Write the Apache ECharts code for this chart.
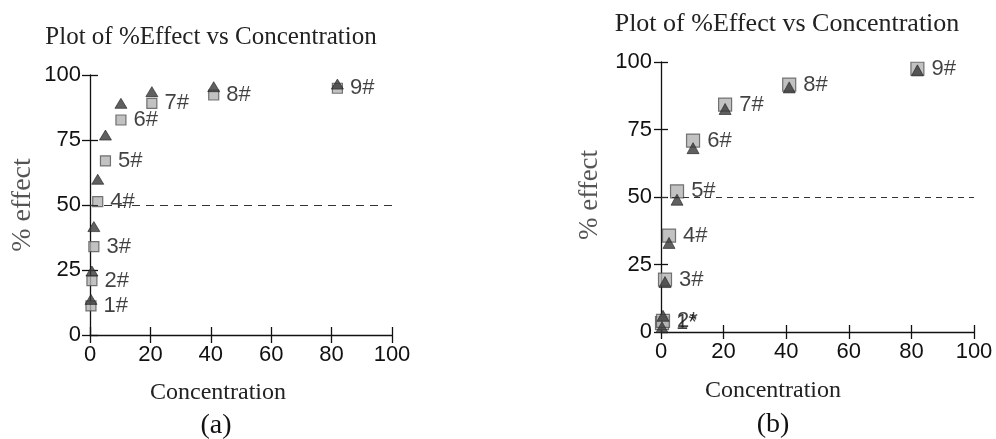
<!DOCTYPE html>
<html><head><meta charset="utf-8">
<script src="https://cdn.jsdelivr.net/npm/echarts@6/dist/echarts.min.js"></script>
<style>html,body{margin:0;padding:0;background:#fff}#c{width:996px;height:439px}</style>
</head><body><div id="c"></div>
<script>
// ---- data ----
const concentration = [0.32, 0.64, 1.28, 2.56, 5.12, 10.24, 20.48, 40.96, 81.92];
const leftSquares   = [11.2, 20.9, 34.0, 51.3, 67.0, 82.7, 89.1, 92.3, 94.9];
const leftTriangles = [13.7, 24.6, 41.7, 59.9, 76.9, 89.1, 93.6, 95.5, 96.5];
const rightSquares   = [3.3, 4.1, 19.4, 35.7, 52.1, 70.9, 84.2, 91.6, 97.5];
const rightTriangles = [1.8, 6.0, 18.5, 33.0, 49.0, 68.1, 82.6, 90.6, 96.9];
const leftLabels  = ['1#', '2#', '3#', '4#', '5#', '6#', '7#', '8#', '9#'];
const rightLabels = ['1*', '2*', '3#', '4#', '5#', '6#', '7#', '8#', '9#'];
const xTicks = [0, 20, 40, 60, 80, 100];
const yTicks = [0, 25, 50, 75, 100];
const refLine = 50;
const titleText = 'Plot of %Effect vs Concentration';
const yName = '% effect';
const xName = 'Concentration';
const panelNames = ['(a)', '(b)'];

// ---- helpers ----
const sans = '"Liberation Sans", Arial, sans-serif';
const serif = '"Liberation Serif", "Times New Roman", serif';
const pairs = (xs, ys) => xs.map((x, i) => [x, ys[i]]);

function xAx(grid, inside, tick, margin) {
  return {
    type: 'value', gridIndex: grid, position: 'bottom',
    min: xTicks[0], max: xTicks[xTicks.length - 1], interval: xTicks[1] - xTicks[0],
    splitLine: { show: false },
    axisLine: { show: !inside, onZero: false, lineStyle: { color: '#111', width: 1.3 } },
    axisTick: { show: true, inside: inside, length: tick, lineStyle: { color: '#111', width: 1.3 } },
    axisLabel: { show: !inside, margin: margin, color: '#111', fontSize: 22, fontFamily: sans }
  };
}
function yAx(grid, inside, tick, margin) {
  return {
    type: 'value', gridIndex: grid, position: 'left',
    min: yTicks[0], max: yTicks[yTicks.length - 1], interval: yTicks[1] - yTicks[0],
    splitLine: { show: false },
    axisLine: { show: !inside, onZero: false, lineStyle: { color: '#111', width: 1.3 } },
    axisTick: { show: true, inside: inside, length: tick, lineStyle: { color: '#111', width: 1.3 } },
    axisLabel: { show: !inside, margin: margin, color: '#111', fontSize: 22, fontFamily: sans }
  };
}
function squares(xi, yi, ys, labels, size, dash) {
  return {
    type: 'scatter', xAxisIndex: xi, yAxisIndex: yi, z: 3,
    symbol: 'rect', symbolSize: size,
    itemStyle: { color: '#b3b3b3', borderColor: '#555', borderWidth: 1.2 },
    label: {
      show: true, position: 'right', distance: 7,
      formatter: p => labels[p.dataIndex],
      color: '#111', fontSize: 22, fontFamily: sans
    },
    data: pairs(concentration, ys),
    markLine: {
      silent: true, symbol: 'none', label: { show: false },
      lineStyle: { color: '#333', width: 1.2, type: dash },
      data: [{ yAxis: refLine }]
    }
  };
}
function triangles(xi, yi, ys, size) {
  return {
    type: 'scatter', xAxisIndex: xi, yAxisIndex: yi, z: 4,
    symbol: 'triangle', symbolSize: size,
    itemStyle: { color: '#383838', borderColor: '#222', borderWidth: 0.8 },
    data: pairs(concentration, ys)
  };
}
function txt(x, y, text, size, color, rot) {
  return {
    type: 'text', x: x, y: y, rotation: rot || 0, z: 10,
    style: {
      text: text, font: size + 'px ' + serif, fill: color,
      textAlign: 'center', textVerticalAlign: 'middle', align: 'center', verticalAlign: 'middle'
    }
  };
}

const chart = echarts.init(document.getElementById('c'));
chart.setOption({
  backgroundColor: '#fff',
  animation: false,
  grid: [
    { left: 90, right: 604, top: 75, bottom: 104 },
    { left: 661, right: 22, top: 62, bottom: 107 }
  ],
  xAxis: [xAx(0, false, 8, 9), xAx(0, true, 8, 0), xAx(1, false, 7, 9), xAx(1, true, 7, 0)],
  yAxis: [yAx(0, false, 8, 9), yAx(0, true, 8, 0), yAx(1, false, 7, 9), yAx(1, true, 7, 0)],
  series: [
    squares(0, 0, leftSquares, leftLabels, 10, [8, 6]),
    triangles(0, 0, leftTriangles, [12, 10]),
    squares(2, 2, rightSquares, rightLabels, 13, [6, 5]),
    triangles(2, 2, rightTriangles, [12, 11])
  ],
  graphic: [
    txt(211, 37, titleText, 25, '#222'),
    txt(787, 24, titleText, 26, '#222'),
    txt(23, 205, yName, 28, '#555', Math.PI / 2),
    txt(590, 195, yName, 27, '#555', Math.PI / 2),
    txt(218, 393, xName, 24, '#222'),
    txt(773, 391, xName, 24, '#222'),
    txt(216, 426, panelNames[0], 28, '#111'),
    txt(773, 425, panelNames[1], 28, '#111')
  ]
});
</script></body></html>
